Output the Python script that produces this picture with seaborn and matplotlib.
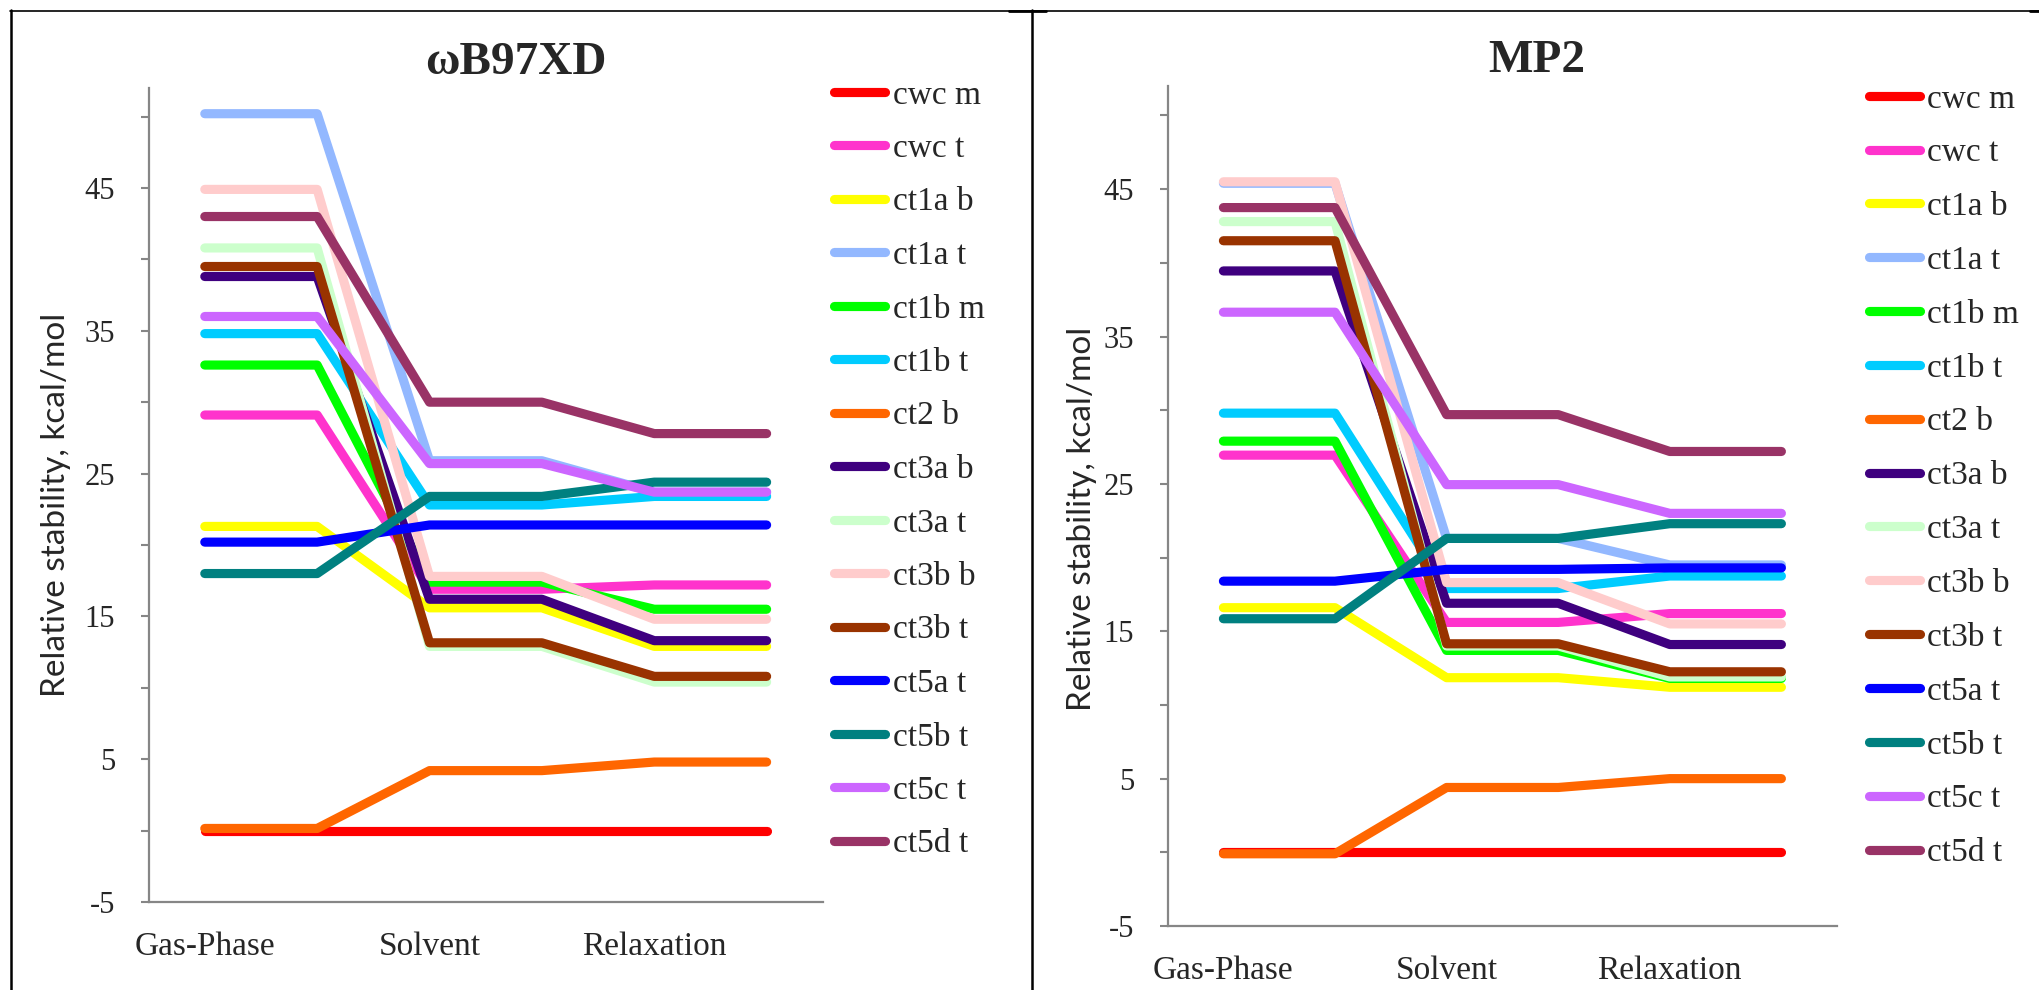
import numpy as np
import pandas as pd
import matplotlib
matplotlib.use("Agg")
import matplotlib.pyplot as plt
from matplotlib.lines import Line2D
import seaborn as sns

# ---------------- data ----------------
categories = ["Gas-Phase", "", "Solvent", "", "Relaxation", ""]
series = ["cwc m", "cwc t", "ct1a b", "ct1a t", "ct1b m", "ct1b t", "ct2 b",
          "ct3a b", "ct3a t", "ct3b b", "ct3b t", "ct5a t", "ct5b t", "ct5c t", "ct5d t"]
colors = ["#FF0000", "#FF33CC", "#FFFF00", "#93B8FF", "#00FF00", "#00CCFF", "#FF6600",
          "#3F007F", "#CCFFCC", "#FFCCCC", "#993300", "#0000FF", "#008080", "#CC66FF", "#993366"]

wb97xd = {
    "cwc m":  [0.0, 0.0, 0.0, 0.0, 0.0, 0.0],
    "cwc t":  [29.1, 29.1, 16.9, 16.9, 17.2, 17.2],
    "ct1a b": [21.3, 21.3, 15.6, 15.6, 12.9, 12.9],
    "ct1a t": [50.2, 50.2, 25.9, 25.9, 23.7, 23.7],
    "ct1b m": [32.6, 32.6, 17.4, 17.4, 15.5, 15.5],
    "ct1b t": [34.8, 34.8, 22.8, 22.8, 23.4, 23.4],
    "ct2 b":  [0.15, 0.15, 4.2, 4.2, 4.8, 4.8],
    "ct3a b": [38.8, 38.8, 16.2, 16.2, 13.3, 13.3],
    "ct3a t": [40.8, 40.8, 12.9, 12.9, 10.4, 10.4],
    "ct3b b": [44.9, 44.9, 17.8, 17.8, 14.8, 14.8],
    "ct3b t": [39.5, 39.5, 13.15, 13.15, 10.8, 10.8],
    "ct5a t": [20.2, 20.2, 21.4, 21.4, 21.4, 21.4],
    "ct5b t": [18.0, 18.0, 23.4, 23.4, 24.4, 24.4],
    "ct5c t": [36.0, 36.0, 25.7, 25.7, 23.7, 23.7],
    "ct5d t": [43.0, 43.0, 30.0, 30.0, 27.8, 27.8],
}
mp2 = {
    "cwc m":  [0.0, 0.0, 0.0, 0.0, 0.0, 0.0],
    "cwc t":  [26.95, 26.95, 15.6, 15.6, 16.2, 16.2],
    "ct1a b": [16.6, 16.6, 11.85, 11.85, 11.2, 11.2],
    "ct1a t": [45.4, 45.4, 21.3, 21.3, 19.5, 19.5],
    "ct1b m": [27.9, 27.9, 13.7, 13.7, 11.8, 11.8],
    "ct1b t": [29.8, 29.8, 17.9, 17.9, 18.75, 18.75],
    "ct2 b":  [-0.1, -0.1, 4.4, 4.4, 5.0, 5.0],
    "ct3a b": [39.45, 39.45, 16.9, 16.9, 14.1, 14.1],
    "ct3a t": [42.8, 42.8, 14.0, 14.0, 11.9, 11.9],
    "ct3b b": [45.5, 45.5, 18.3, 18.3, 15.5, 15.5],
    "ct3b t": [41.5, 41.5, 14.15, 14.15, 12.25, 12.25],
    "ct5a t": [18.4, 18.4, 19.2, 19.2, 19.3, 19.3],
    "ct5b t": [15.85, 15.85, 21.3, 21.3, 22.3, 22.3],
    "ct5c t": [36.65, 36.65, 24.95, 24.95, 23.0, 23.0],
    "ct5d t": [43.75, 43.75, 29.7, 29.7, 27.2, 27.2],
}
titles = ["ωB97XD", "MP2"]
ylabel = "Relative stability, kcal/mol"
major_ticks = [-5, 5, 15, 25, 35, 45]
minor_ticks = [0, 10, 20, 30, 40, 50]

# ---------------- style ----------------
sns.set_style("white")
plt.rcParams["font.family"] = ["Liberation Serif", "DejaVu Serif"]

W, H = 2040, 990
fig = plt.figure(figsize=(W / 100, H / 100), dpi=100)

def px(x0, y0, x1, y1):
    return [x0 / W, 1 - y1 / H, (x1 - x0) / W, (y1 - y0) / H]

axes_rects = [px(148.6, 88, 822.8, 902), px(1167.6, 86, 1837.2, 926)]
title_pos = [(516, 63), (1537, 61)]
ylabel_pos = [(56, 505), (1082, 519)]
legend_anchor = [(834.5, 80), (1869, 84)]
legend_spacing = [0.69, 0.70]

palette = dict(zip(series, colors))
gray = "#868686"

for k, data in enumerate([wb97xd, mp2]):
    ax = fig.add_axes(axes_rects[k])
    df = pd.DataFrame(
        [(s, i, v) for s in series for i, v in enumerate(data[s])],
        columns=["series", "pos", "value"],
    )
    sns.lineplot(data=df, x="pos", y="value", hue="series", hue_order=series,
                 palette=palette, linewidth=6.6, legend=False, ax=ax,
                 estimator=None, sort=False)
    for ln in ax.lines:
        ln.set_solid_capstyle("round")
        ln.set_solid_joinstyle("round")

    ax.set_xlim(-0.5, len(categories) - 0.5)
    ax.set_ylim(-5, 52)
    ax.set_xticks(range(len(categories)))
    ax.set_xticklabels(categories, fontsize=24)
    ax.tick_params(axis="x", length=0, pad=21)
    ax.set_yticks(major_ticks)
    ax.set_yticks(minor_ticks, minor=True)
    ax.set_yticklabels([str(t) for t in major_ticks], fontsize=22)
    ax.tick_params(axis="y", which="both", length=6, width=1.5, color=gray,
                   direction="out", left=True, pad=18)
    ax.set_xlabel("")
    ax.set_ylabel("")
    for side in ["top", "right"]:
        ax.spines[side].set_visible(False)
    for side in ["left", "bottom"]:
        ax.spines[side].set_color(gray)
        ax.spines[side].set_linewidth(1.6)
    ax.set_facecolor("white")

    fig.text(title_pos[k][0] / W, 1 - title_pos[k][1] / H, titles[k],
             ha="center", va="center", fontsize=34, fontweight="bold")
    fig.text(ylabel_pos[k][0] / W, 1 - ylabel_pos[k][1] / H, ylabel,
             ha="center", va="center", rotation=90, fontsize=24,
             family=["Lato", "DejaVu Sans"])

    handles = [Line2D([], [], color=c, lw=6.6, solid_capstyle="round") for c in colors]
    ax.legend(handles, series, loc="upper left",
              bbox_to_anchor=(legend_anchor[k][0] / W, 1 - legend_anchor[k][1] / H),
              bbox_transform=fig.transFigure, frameon=False, fontsize=24,
              handlelength=1.53, handletextpad=0.22, labelspacing=legend_spacing[k],
              borderpad=0, borderaxespad=0)

# outer frame lines (decoration)
frame_kw = dict(color="black", transform=fig.transFigure, figure=fig)
fig.lines.extend([
    Line2D([10 / W, 1.0], [1 - 10.5 / H] * 2, lw=1.2, **frame_kw),
    Line2D([11 / W, 11 / W], [0, 1 - 10 / H], lw=1.8, **frame_kw),
    Line2D([1031.7 / W, 1031.7 / W], [0, 1 - 10 / H], lw=1.8, **frame_kw),
    Line2D([1009 / W, 1046 / W], [1 - 11 / H] * 2, lw=2.0, **frame_kw),
    Line2D([2030 / W, 1.0], [1 - 11 / H] * 2, lw=2.0, **frame_kw),
])

fig.savefig("out.png", dpi=100, facecolor="white")
